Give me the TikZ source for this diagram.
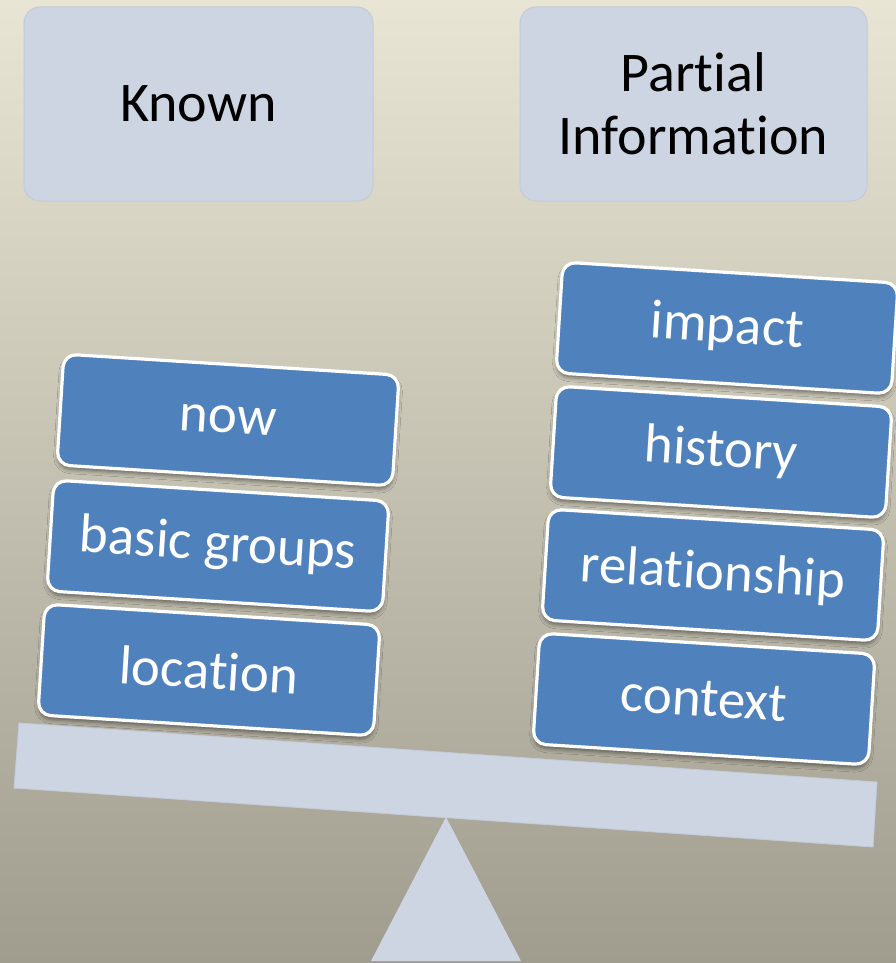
\documentclass[tikz,border=0pt]{standalone}
\usepackage{fontspec}
\setmainfont{Carlito}[Ligatures={NoCommon,NoDiscretionary}]
\usetikzlibrary{shadows.blur}

\definecolor{bgtop}{HTML}{E9E5D4}
\definecolor{bgmid}{HTML}{CBC8B8}
\definecolor{bgbot}{HTML}{A09D8F}
\definecolor{paleblue}{HTML}{CDD4E2}
\definecolor{paleedge}{HTML}{C3CBDB}
\definecolor{itemblue}{HTML}{4F81BD}

\tikzset{
  headbox/.style={draw=paleedge, line width=1pt, fill=paleblue, rounded corners=16pt,
    text=black, align=center, inner sep=0pt,
    font=\fontsize{56}{63}\selectfont},
  itembox/.style={draw=white, line width=3.2pt, fill=itemblue, rounded corners=13pt,
    text=white, inner sep=0pt, minimum width=336pt, minimum height=111pt,
    rotate=-3.6, font=\fontsize{55}{60}\selectfont,
    blur shadow={shadow xshift=0pt, shadow yshift=-4pt, shadow blur radius=4pt, shadow opacity=45}},
  plank/.style={fill=paleblue, draw=paleedge, line width=0.8pt}
}

\begin{document}
\begin{tikzpicture}[x=1pt, y=-1pt]
  \useasboundingbox (0,0) rectangle (896,963);
  % backdrop
  \shade[top color=bgtop, middle color=bgmid, bottom color=bgbot] (0,0) rectangle (896,963);

  % headings
  \node[headbox, minimum width=349pt, minimum height=194pt] (known) at (198.5,104) {Known};
  \node[headbox, minimum width=347pt, minimum height=194pt] (partial) at (693.5,104) {Partial\\Information};

  % fulcrum and beam of the balance
  \coordinate (pivot) at (446,817);
  \fill[paleblue] (pivot) -- (371,961) -- (521,961) -- cycle;
  \draw[plank] (19,723) coordinate (beamA) -- (877,782) coordinate (beamB)
    -- (873,847) coordinate (beamC) -- (14,788) coordinate (beamD) -- cycle;

  % left pan: known facts
  \node[itembox] (location) at (209,670) {location};
  \node[itembox] (groups) at (218,546) {basic groups};
  \node[itembox] (now) at (228,420) {now};

  % right pan: partial information
  \node[itembox] (context) at (704,699) {context};
  \node[itembox] (relationship) at (713,575) {relationship};
  \node[itembox] (history) at (721,452) {history};
  \node[itembox] (impact) at (727,328) {impact};
\end{tikzpicture}
\end{document}
